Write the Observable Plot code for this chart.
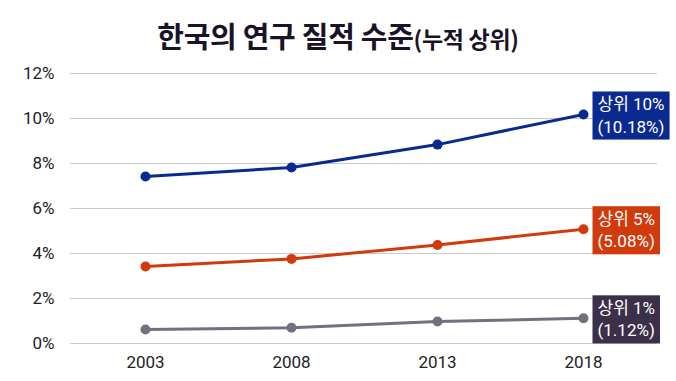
<!DOCTYPE html>
<html>
<head>
<meta charset="utf-8">
<script src="https://cdn.jsdelivr.net/npm/d3@7"></script>
<script src="https://cdn.jsdelivr.net/npm/@observablehq/plot@0.6"></script>
<style>
  html, body { margin: 0; padding: 0; background: #fff; }
  body { width: 676px; height: 381px; overflow: hidden; font-family: "Noto Sans CJK KR", "Noto Sans", sans-serif; }
  #title { height: 38px; padding-top: 21px; line-height: 1; text-align: center; font-weight: 700; font-size: 29px; color: #1a1326; white-space: nowrap; letter-spacing: -0.3px; }
  #title .sub { font-size: 23px; }
</style>
</head>
<body>
<div id="title">한국의 연구 질적 수준<span class="sub">(누적 상위)</span></div>
<div id="chart"></div>
<script>
const years = ["2003", "2008", "2013", "2018"];
const seriesNames = ["상위 10%", "상위 5%", "상위 1%"];
const top10 = [7.42, 7.82, 8.84, 10.18];
const top5 = [3.42, 3.76, 4.38, 5.08];
const top1 = [0.62, 0.70, 0.98, 1.12];
const endLabels = ["(10.18%)", "(5.08%)", "(1.12%)"];
const yTicks = [0, 2, 4, 6, 8, 10, 12];
const lineColors = ["#0b2a8f", "#d03a0c", "#737080"];
const boxColors = ["#0b2a8f", "#d03a0c", "#3b2f4a"];

const seriesValues = [top10, top5, top1];
const data = [];
seriesNames.forEach((s, i) => years.forEach((yr, j) => data.push({series: s, year: yr, value: seriesValues[i][j]})));
const last = seriesNames.map((s, i) => ({series: s, year: years[years.length - 1], value: seriesValues[i][years.length - 1], label: s + "\n" + endLabels[i], idx: i}));

const chart = Plot.plot({
  width: 676,
  height: 321,
  marginLeft: 70,
  marginRight: 19,
  marginTop: 14,
  marginBottom: 37,
  style: {fontFamily: "Roboto, 'Noto Sans CJK KR', sans-serif", fontSize: "17px", color: "#222", background: "#fff"},
  x: {type: "point", domain: years, padding: 0.5, label: null, tickSize: 0, tickPadding: 12},
  y: {domain: [0, 12], ticks: yTicks, tickFormat: d => d + "%", label: null, tickSize: 0, tickPadding: 16},
  color: {domain: seriesNames, range: lineColors},
  marks: [
    Plot.gridY(yTicks, {stroke: "#c9c9c9", strokeOpacity: 1, strokeWidth: 1}),
    Plot.line(data, {x: "year", y: "value", z: "series", stroke: "series", strokeWidth: 3}),
    Plot.dot(data, {x: "year", y: "value", fill: "series", r: 5}),
    Plot.text(last, {x: "year", y: "value", text: "label", dx: 14, textAnchor: "start", lineAnchor: "middle", lineHeight: 1.3, fill: "white", fontSize: 17, className: "endlabel"})
  ]
});
document.getElementById("chart").appendChild(chart);

// background boxes behind end labels, sized from the rendered text
d3.select(chart).selectAll("g.endlabel text").each(function(d, i) {
  const bb = this.getBBox();
  const padX = 5, padY = 3;
  d3.select(this.parentNode).insert("rect", () => this)
    .attr("x", bb.x - padX)
    .attr("y", bb.y - padY)
    .attr("width", bb.width + 2 * padX)
    .attr("height", bb.height + 2 * padY)
    .attr("transform", this.getAttribute("transform"))
    .attr("fill", boxColors[i]);
});
</script>
</body>
</html>
